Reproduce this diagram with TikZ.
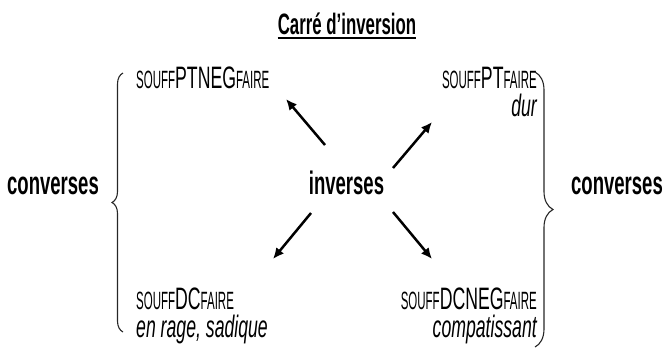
\documentclass[tikz,border=0pt]{standalone}
\usepackage{fontspec}
\setmainfont{Liberation Sans}[FakeStretch=0.57]
\newfontfamily\etroit{Liberation Sans}[FakeStretch=0.46]
\usepackage{tikz}
\usetikzlibrary{arrows.meta,decorations.pathreplacing,positioning}
\newcommand{\petit}[1]{{\etroit\fontsize{25}{25}\selectfont #1}}
\tikzset{
    lab/.style={
        inner sep=0pt,
        font=\fontsize{31}{31}\selectfont,
    },
    gros/.style={
        inner sep=0pt,
        font=\fontsize{32.5}{32.5}\selectfont\bfseries,
    },
    fleche/.style={
        -{Latex[length=11pt,width=10pt]},
        line width=2.5pt,
    },
    accolade/.style={
        decorate,
        decoration={brace, amplitude=#1},
        line width=1.1pt,
        draw=black!85,
    },
}

\begin{document}
\begin{tikzpicture}[x=1pt, y=-1pt]
\useasboundingbox (0,0) rectangle (665,349);

% Titre
\node [inner sep=0pt, anchor=base, font=\fontsize{29.5}{29.5}\selectfont\bfseries] (titre) at (347,34) {Carré d’inversion};
\draw [line width=1.8pt] ([yshift=-4pt]titre.base west) -- ([yshift=-4pt]titre.base east);

% centre et cotes
\node [gros, anchor=base] (inv) at (346.5,194) {inverses};
\node [gros, anchor=base] (convG) at (53,194) {converses};
\node [gros, anchor=base] (convD) at (617,194) {converses};

% coins
\node [lab, anchor=base west] (hg) at (136,88) {\petit{SOUFF}PTNEG\petit{FAIRE}};
\node [lab, anchor=base east] (hd) at (537,88) {\petit{SOUFF}PT\petit{FAIRE}};
\node [lab, anchor=base east] (hd2) at ([yshift=-28pt]hd.base east) {\itshape dur};
\node [lab, anchor=base west] (bg) at (136,309) {\petit{SOUFF}DC\petit{FAIRE}};
\node [lab, anchor=base west] (bg2) at ([yshift=-28pt]bg.base west) {\itshape en rage, sadique};
\node [lab, anchor=base east] (bd) at (537,309) {\petit{SOUFF}DCNEG\petit{FAIRE}};
\node [lab, anchor=base east] (bd2) at ([yshift=-28pt]bd.base east) {\itshape compatissant};

% fleches
\coordinate (f1a) at (325,145);
\coordinate (f1b) at (286,99);
\coordinate (f2a) at (393,168);
\coordinate (f2b) at (432,122);
\coordinate (f3a) at (311,213);
\coordinate (f3b) at (273,259);
\coordinate (f4a) at (393,212);
\coordinate (f4b) at (432,259);
\draw [fleche] (f1a) -- (f1b);
\draw [fleche] (f2a) -- (f2b);
\draw [fleche] (f3a) -- (f3b);
\draw [fleche] (f4a) -- (f4b);

% accolades
\coordinate (agB) at (123,332);
\coordinate (agH) at (123,73);
\coordinate (adH) at (535,72);
\coordinate (adB) at (535,347);
\draw [accolade=11pt] (agB) -- (agH);
\draw [accolade=18pt] (adH) -- (adB);

\end{tikzpicture}
\end{document}
